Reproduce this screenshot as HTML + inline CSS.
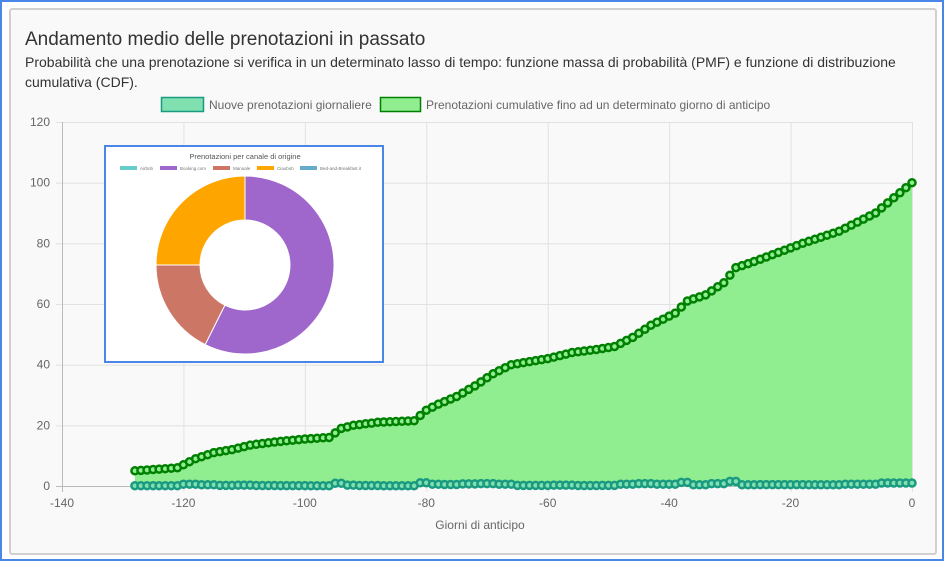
<!DOCTYPE html>
<html><head><meta charset="utf-8"><style>
body{margin:0;width:944px;height:561px;overflow:hidden;background:#fff;font-family:"Liberation Sans",sans-serif}
.outer{position:absolute;left:0;top:0;width:940px;height:557px;border:2px solid #4a86e8}
.card{position:absolute;left:9px;top:8px;width:924px;height:543px;border:2px solid #d0d0d0;border-radius:3px;background:#f9f9f9}
.t{position:absolute;left:25px;top:29px;font-size:19px;color:#333}
.s{position:absolute;left:25px;top:52px;width:900px;font-size:14px;line-height:20px;color:#333}
</style></head><body>
<div class="outer"></div><div class="card"></div>
<div class="t">Andamento medio delle prenotazioni in passato</div>
<div class="s">Probabilità che una prenotazione si verifica in un determinato lasso di tempo: funzione massa di probabilità (PMF) e funzione di distribuzione cumulativa (CDF).</div>
<svg id="c" width="944" height="561" style="position:absolute;left:0;top:0" font-family="Liberation Sans, sans-serif"></svg>
<script>
const s=document.getElementById('c');let h='';
const X=d=>62+(d+140)*850/140, Y=v=>486-v*364/120;
h+='<rect x="161.5" y="97.5" width="42" height="14" fill="#80e0b0" stroke="#1a9a80" stroke-width="1.5"/><text x="209" y="109" font-size="12" fill="#666">Nuove prenotazioni giornaliere</text>';
h+='<rect x="380.5" y="97.5" width="40" height="14" fill="#90ee90" stroke="#008000" stroke-width="1.5"/><text x="426" y="109" font-size="12" fill="#666">Prenotazioni cumulative fino ad un determinato giorno di anticipo</text>';
for(let v=0;v<=120;v+=20){h+=`<line x1="56" x2="912" y1="${Y(v)+.5}" y2="${Y(v)+.5}" stroke="${v?'#e2e2e2':'#bbb'}"/><text x="50" y="${Y(v)+4}" font-size="12" fill="#666" text-anchor="end">${v}</text>`}
for(let d=-140;d<=0;d+=20){h+=`<line x1="${X(d)+.5}" x2="${X(d)+.5}" y1="122" y2="492" stroke="${d==-140?'#bbb':'#e2e2e2'}"/><text x="${X(d)}" y="507" font-size="12" fill="#666" text-anchor="middle">${d}</text>`}
h+='<text x="480" y="529" font-size="12" fill="#666" text-anchor="middle">Giorni di anticipo</text>';
const K=[[-128,5],[-121,6],[-118,9],[-115,11],[-112,12],[-109,13.5],[-105,14.5],[-100,15.5],[-96,16],[-94,19],[-92,20],[-88,21],[-82,21.5],[-80,25],[-78,27],[-75,29.5],[-72,33],[-69,37],[-66,40],[-63,41],[-60,42],[-56,44],[-52,45],[-49,46],[-46,49],[-43,53],[-41,55],[-39,57],[-37,61],[-34,63],[-31,67],[-29,72],[-26,74],[-22,77],[-18,80],[-15,82],[-12,84],[-9,87],[-6,90],[-3,95],[0,100]];
function f(d){for(let i=0;i<K.length-1;i++)if(d<=K[i+1][0]){const[a,b]=K[i],[c,e]=K[i+1];return b+(e-b)*(d-a)/(c-a)}return 100}
let cum=[],dl=[];for(let d=-128;d<=0;d++){cum.push([d,f(d)]);dl.push([d,Math.max(0,Math.min(2.5,(f(d)-f(d-1))*0.6))])}
let p='M'+X(-128)+','+Y(0)+cum.map(q=>'L'+X(q[0]).toFixed(1)+','+Y(q[1]).toFixed(1)).join('')+'L'+X(0)+','+Y(0)+'Z';
h+=`<path d="${p}" fill="#90ee90"/>`;
h+=`<polyline points="${cum.map(q=>X(q[0]).toFixed(1)+','+Y(q[1]).toFixed(1)).join(' ')}" fill="none" stroke="#008000" stroke-width="2"/>`;
cum.forEach(q=>h+=`<circle cx="${X(q[0]).toFixed(1)}" cy="${Y(q[1]).toFixed(1)}" r="3.5" fill="#90ee90" stroke="#008000" stroke-width="2.5"/>`);
h+=`<polyline points="${dl.map(q=>X(q[0]).toFixed(1)+','+Y(q[1]).toFixed(1)).join(' ')}" fill="none" stroke="#1a9a80" stroke-width="2"/>`;
dl.forEach(q=>h+=`<circle cx="${X(q[0]).toFixed(1)}" cy="${Y(q[1]).toFixed(1)}" r="3.5" fill="#80e0b0" stroke="#1a9a80" stroke-width="2.5"/>`);
h+='<rect x="105" y="146" width="278" height="216" fill="#fff" stroke="#4a86e8" stroke-width="2"/>';
h+='<text x="245" y="159" font-size="7.5" fill="#555" text-anchor="middle">Prenotazioni per canale di origine</text>';
const L=[['Airbnb','#66cccc',120],['Booking.com','#9f66cc',160],['Manuale','#cc7766',213],['Ciaobnb','#ffa500',257],['Bed-and-Breakfast.it','#66aacc',300]];
L.forEach(l=>h+=`<rect x="${l[2]}" y="166" width="17" height="4" fill="${l[1]}"/><text x="${l[2]+20}" y="170" font-size="4.5" fill="#777">${l[0]}</text>`);
const cx=245,cy=265,R=89,r=45;
function arc(a0,a1,c){const pt=(a,rr)=>[cx+rr*Math.sin(a*Math.PI/180),cy-rr*Math.cos(a*Math.PI/180)];const l=a1-a0>180?1:0;const[p1,p2,p3,p4]=[pt(a0,R),pt(a1,R),pt(a1,r),pt(a0,r)];
return `<path d="M${p1}A${R},${R} 0 ${l} 1 ${p2}L${p3}A${r},${r} 0 ${l} 0 ${p4}Z" fill="${c}" stroke="#fff" stroke-width="1"/>`}
h+=arc(0,206.6,'#9f66cc')+arc(206.6,270,'#cc7766')+arc(270,360,'#ffa500');
s.innerHTML=h;
</script>
</body></html>
